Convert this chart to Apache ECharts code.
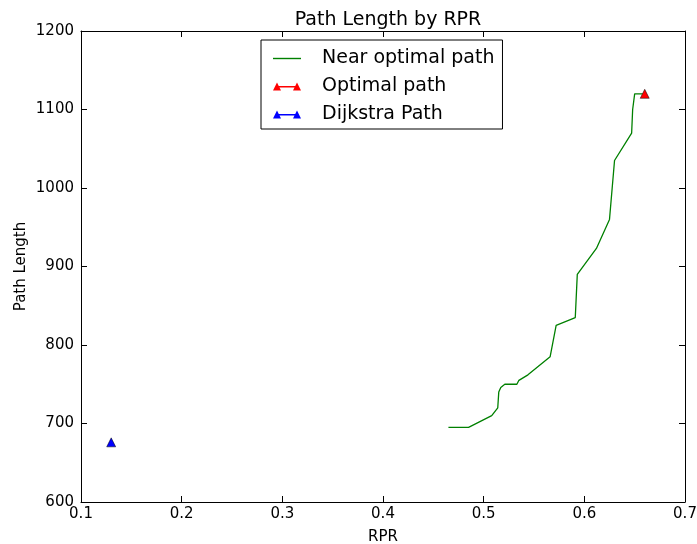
<!DOCTYPE html>
<html><head><meta charset="utf-8">
<script src="https://cdn.jsdelivr.net/npm/echarts@6/dist/echarts.min.js"></script>
<style>html,body{margin:0;padding:0;background:#fff}#c{width:697px;height:544px}</style>
</head><body><div id="c"></div>
<script>
const nearRPR = [0.465,0.485,0.508,0.514,0.515,0.517,0.521,0.533,0.535,0.544,0.566,0.572,0.591,0.593,0.612,0.625,0.630,0.647,0.648,0.650,0.658];
const nearLen = [695,695,710,720,740,746,750,750,755,762,785,825,835,890,923,960,1035,1070,1100,1120,1120];
const optimalRPR = [0.66];
const optimalLen = [1120];
const dijkstraRPR = [0.13];
const dijkstraLen = [676];
const xTicks = [0.1,0.2,0.3,0.4,0.5,0.6,0.7];
const yTicks = [600,700,800,900,1000,1100,1200];

const font = 'DejaVu Sans';
const chart = echarts.init(document.getElementById('c'));
const zip = (a,b)=>a.map((v,i)=>[v,b[i]]);
const baseX = {type:'value',min:xTicks[0],max:xTicks[xTicks.length-1],interval:0.1,
  axisLine:{lineStyle:{color:'#000',width:1}},axisTick:{inside:true,length:6,lineStyle:{color:'#000'}},
  splitLine:{show:false}};
const baseY = {type:'value',min:yTicks[0],max:yTicks[yTicks.length-1],interval:100,
  axisLine:{lineStyle:{color:'#000',width:1}},axisTick:{inside:true,length:6,lineStyle:{color:'#000'}},
  splitLine:{show:false}};
const triIcon = 'path://M0,10 L4,2 L8,10 Z M20,10 L24,2 L28,10 Z M5,5.6 H23 V6.9 H5 Z';
const lineIcon = 'path://M0,0 H28 V1.4 H0 Z';
chart.setOption({
  animation:false,
  textStyle:{fontFamily:font},
  title:{text:'Path Length by RPR',left:383,top:6,textAlign:'center',
    textStyle:{fontFamily:font,fontSize:19,fontWeight:'normal',color:'#000'}},
  grid:{left:81,right:12,top:31,bottom:42,containLabel:false,outerBoundsMode:'none'},
  legend:{orient:'vertical',left:261,top:40,padding:[9,8,5,12],itemGap:9,
    borderColor:'#000',borderWidth:1,backgroundColor:'#fff',itemWidth:28,itemHeight:12,
    textStyle:{fontFamily:font,fontSize:19,color:'#000',padding:[0,0,0,16]},
    data:[{name:'Near optimal path',icon:lineIcon,itemStyle:{borderWidth:0}},
          {name:'Optimal path',icon:triIcon,itemStyle:{borderWidth:0}},
          {name:'Dijkstra Path',icon:triIcon,itemStyle:{borderWidth:0}}]},
  xAxis:[Object.assign({},baseX,{position:'bottom',name:'RPR',nameLocation:'middle',nameGap:28,nameMoveOverlap:false,
      nameTextStyle:{fontFamily:font,fontSize:15,color:'#000'},
      axisLabel:{color:'#000',fontSize:15,fontFamily:font,margin:5,formatter:v=>v.toFixed(1)}}),
    Object.assign({},baseX,{position:'top',axisLabel:{show:false}})],
  yAxis:[Object.assign({},baseY,{position:'left',name:'Path Length',nameLocation:'middle',nameGap:52,nameMoveOverlap:false,
      nameTextStyle:{fontFamily:font,fontSize:15,color:'#000'},
      axisLabel:{color:'#000',fontSize:15,fontFamily:font,margin:7,formatter:v=>String(v)}}),
    Object.assign({},baseY,{position:'right',axisLabel:{show:false}})],
  series:[
    {name:'Near optimal path',type:'line',data:zip(nearRPR,nearLen),showSymbol:false,symbol:'none',
      lineStyle:{color:'#008000',width:1.3},itemStyle:{color:'#008000'}},
    {name:'Optimal path',type:'line',data:zip(optimalRPR,optimalLen),symbol:'triangle',symbolSize:9,
      lineStyle:{color:'#ff0000',width:1.3},itemStyle:{color:'#ff0000',borderColor:'#000',borderWidth:0.5}},
    {name:'Dijkstra Path',type:'line',data:zip(dijkstraRPR,dijkstraLen),symbol:'triangle',symbolSize:9,
      lineStyle:{color:'#0000ff',width:1.3},itemStyle:{color:'#0000ff',borderColor:'#000',borderWidth:0.5}}
  ]
});
</script></body></html>
